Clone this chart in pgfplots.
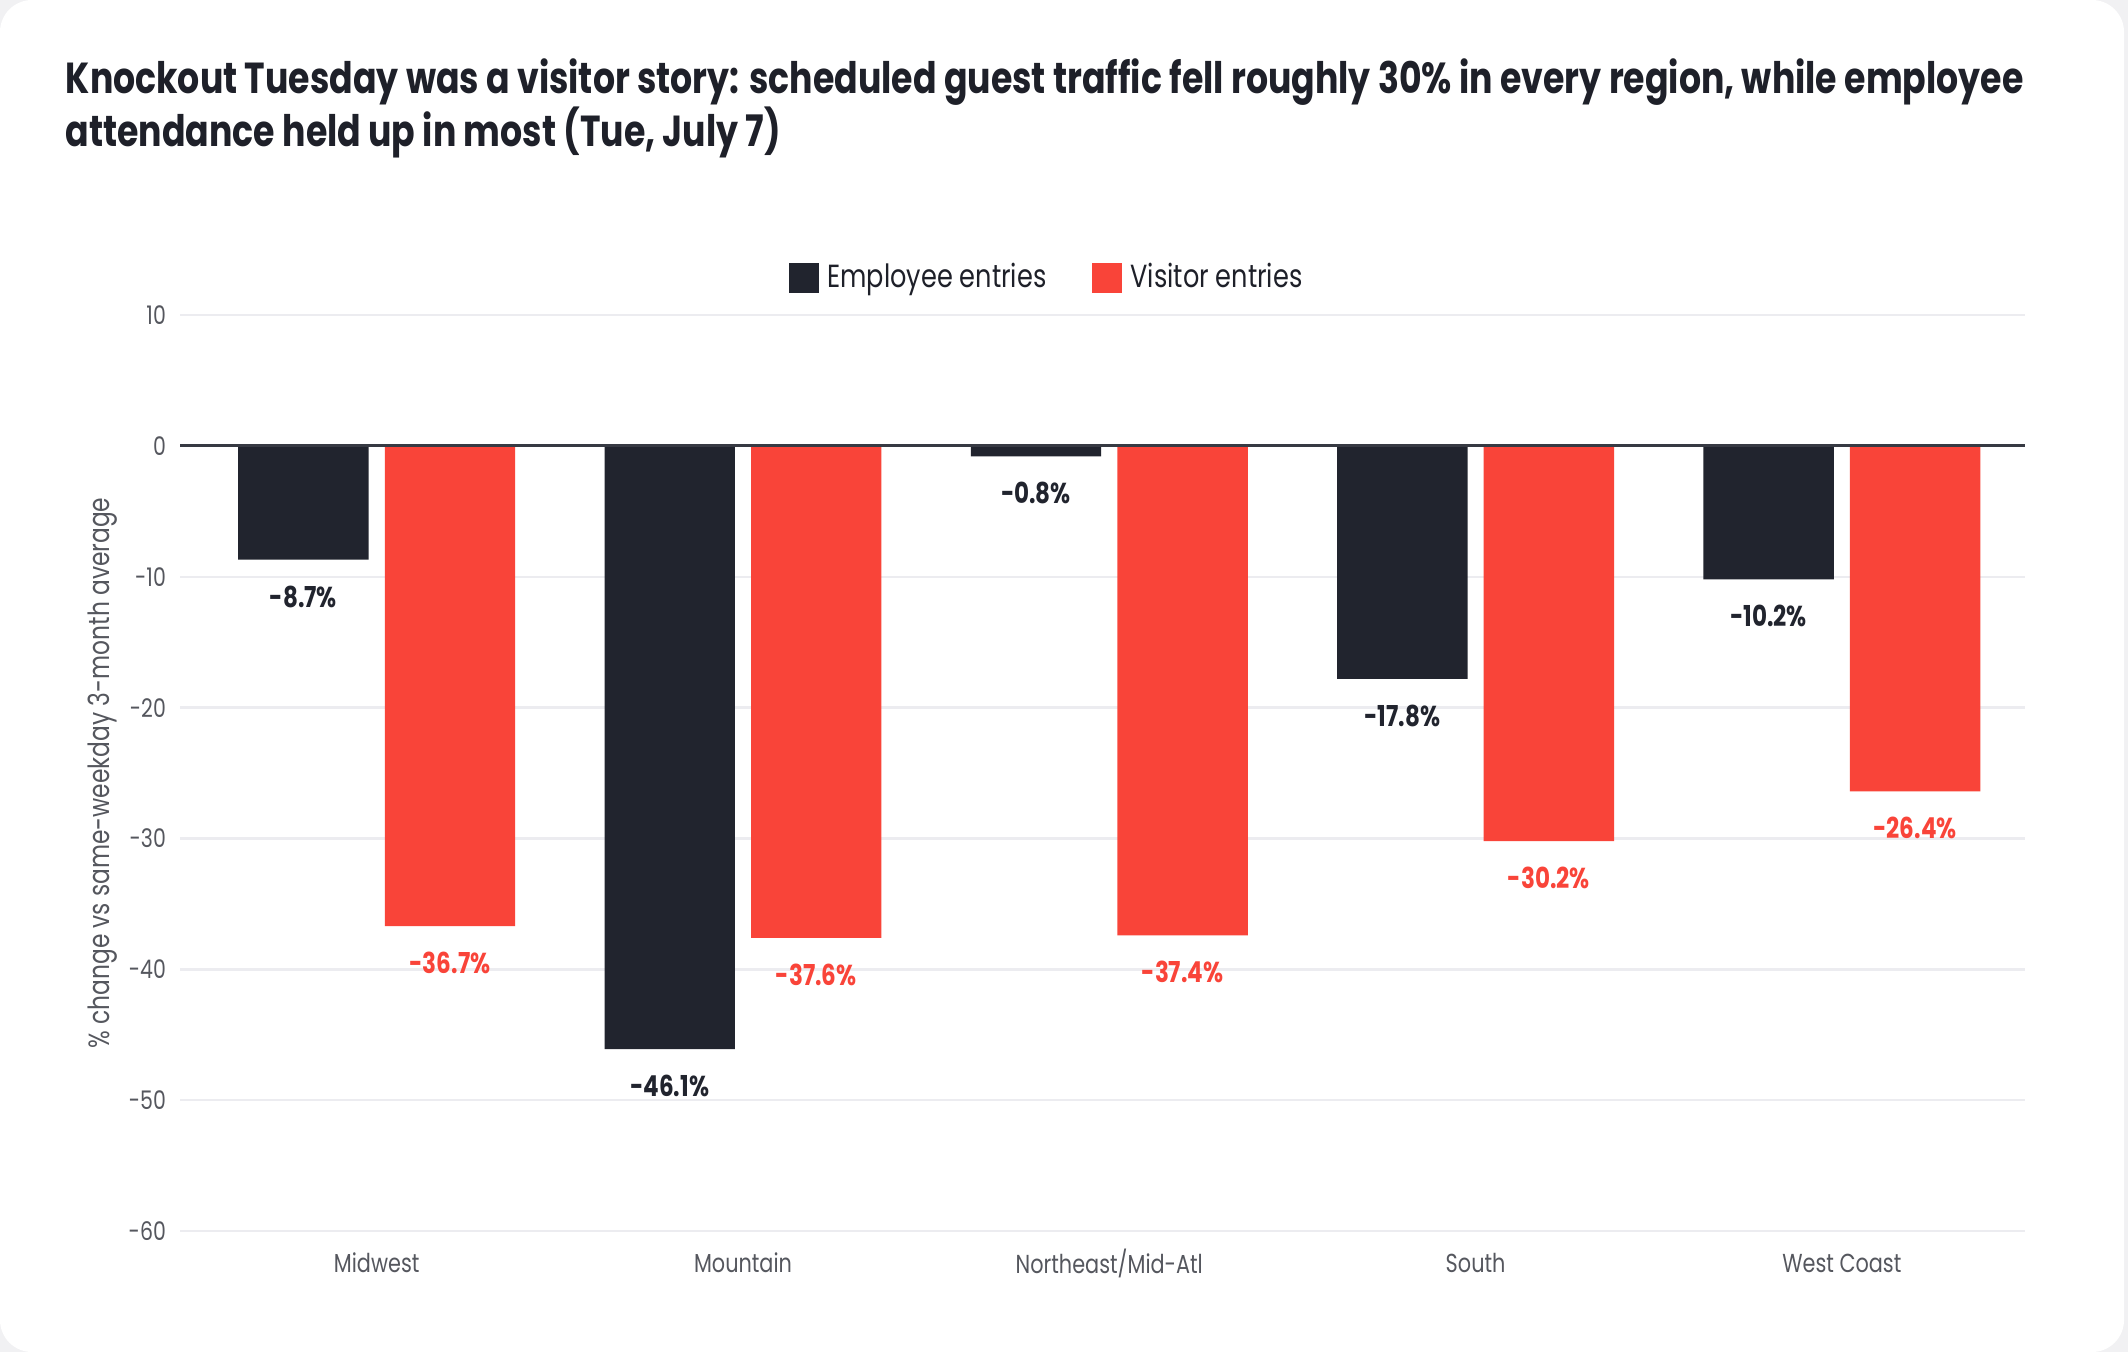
\documentclass[border=0pt]{standalone}
\usepackage{fontspec}
\setmainfont{Poppins}[FakeStretch=0.8]
\usepackage{pgfplots}
\pgfplotsset{compat=1.18}
\definecolor{emp}{HTML}{21242E}
\definecolor{vis}{HTML}{F94439}
\definecolor{gridc}{HTML}{ECECF0}
\definecolor{tickc}{HTML}{55575E}
\definecolor{titlec}{HTML}{1E2029}
\definecolor{outer}{HTML}{F1F1F3}
\begin{document}
\begin{tikzpicture}[x=1pt,y=1pt]
\fill[outer] (0,0) rectangle (532,338);
\fill[white, rounded corners=8pt] (0,0) rectangle (531,338);
\node[anchor=north west, align=left, inner sep=0, text=titlec,
      font=\bfseries\fontsize{10.85}{13.25}\selectfont] at (16.25,323.4)
  {Knockout Tuesday was a visitor story: scheduled guest traffic fell roughly 30\% in every region, while employee\\attendance held up in most (Tue, July 7)};
\begin{axis}[
  at={(45pt,30.25pt)}, anchor=south west, scale only axis,
  width=461.25pt, height=229pt,
  xmin=-0.537, xmax=4.5, ymin=-60, ymax=10,
  ybar, bar width=0.356,
  ytick={-60,-50,...,10},
  xtick={0,1,2,3,4},
  xticklabels={Midwest,Mountain,Northeast/Mid-Atl,South,West Coast},
  ymajorgrids, grid style={gridc, line width=0.6pt},
  axis line style={draw=none}, major tick length=0pt,
  /pgf/number format/assume math mode=true,
  yticklabel style={font=\fontsize{6.4}{7}\selectfont, text=tickc},
  xticklabel style={font=\fontsize{6.5}{7}\selectfont, text=tickc, anchor=center, yshift=-8pt},
  ylabel={\% change vs same-weekday 3-month average},
  ylabel style={at={(axis description cs:-0.0418,0.5)}, anchor=center,
     font=\fontsize{7.3}{8}\selectfont, text=tickc},
  legend style={at={(axis description cs:0.4715,1.0404)}, anchor=center,
     draw=none, fill=none, legend columns=2,
     font=\fontsize{8}{9}\selectfont, text=titlec,
     /tikz/every even column/.append style={column sep=9.5pt}},
  legend cell align=left,
  nodes near coords={\pgfmathprintnumber[fixed,precision=1,fixed zerofill,assume math mode=true]{\pgfplotspointmeta}\%},
  nodes near coords align={vertical},
  every node near coord/.append style={font=\bfseries\fontsize{7.2}{8}\selectfont, yshift=-3pt},
  clip=false,
]
\addplot[ybar, bar shift=-0.2, fill=emp, draw=none,
   every node near coord/.append style={text=emp},
   legend image code/.code={\fill[emp] (0pt,-3.75pt) rectangle (7.5pt,3.75pt);}]
  coordinates {(0,-8.7) (1,-46.1) (2,-0.8) (3,-17.8) (4,-10.2)};
\addlegendentry{Employee entries}
\addplot[ybar, bar shift=0.2, fill=vis, draw=none,
   every node near coord/.append style={text=vis},
   legend image code/.code={\fill[vis] (0pt,-3.75pt) rectangle (7.5pt,3.75pt);}]
  coordinates {(0,-36.7) (1,-37.6) (2,-37.4) (3,-30.2) (4,-26.4)};
\addlegendentry{Visitor entries}
\draw[color=emp!90, line width=0.7pt] (axis cs:-0.537,0) -- (axis cs:4.5,0);
\end{axis}
\end{tikzpicture}
\end{document}
